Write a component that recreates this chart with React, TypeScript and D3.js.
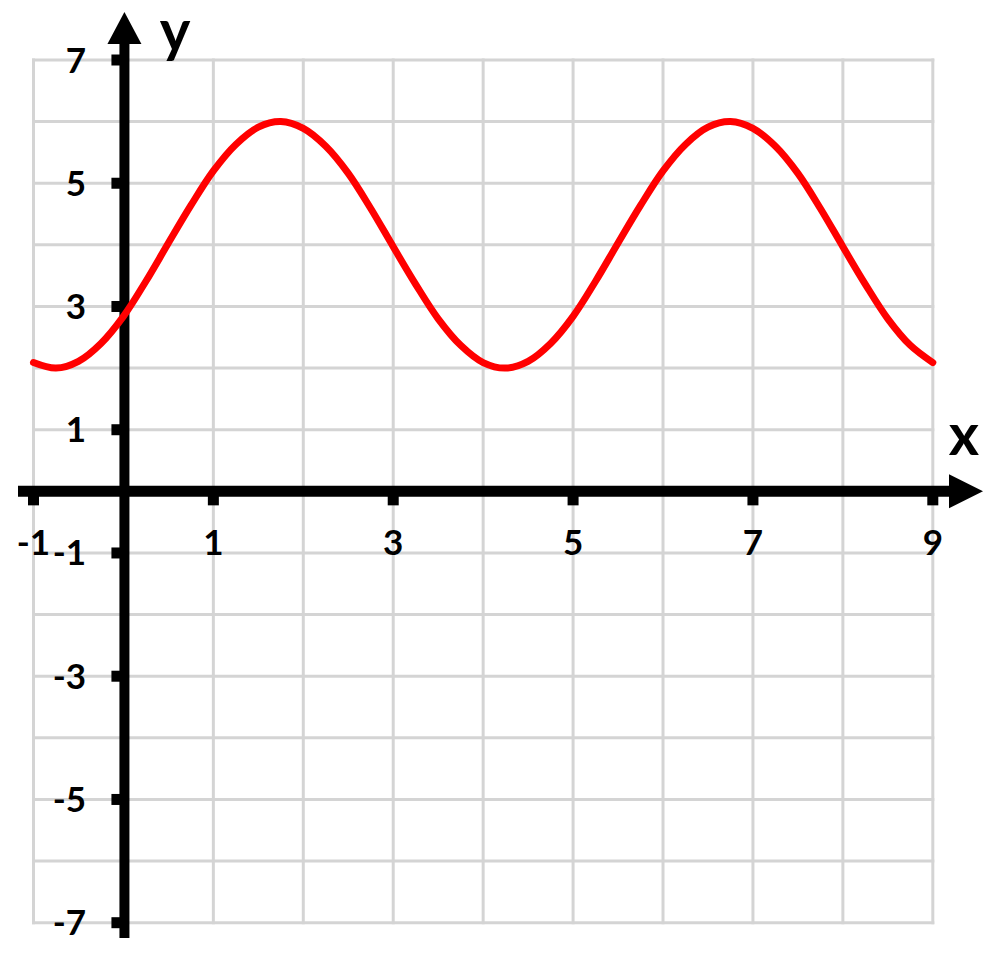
import * as d3 from "d3";
import React from "react";

// curve readings, every 0.25 from x = -1 to x = 9
const xValues: number[] = d3.range(0, 41).map((i) => -1 + i * 0.25);
const yValues: number[] = [
	2.09, 2.0, 2.11, 2.4, 2.84, 3.41, 4.03, 4.64, 5.2, 5.63, 5.91, 6.0, 5.89,
	5.6, 5.16, 4.59, 3.97, 3.36, 2.8, 2.37,
	2.09, 2.0, 2.11, 2.4, 2.84, 3.41, 4.03, 4.64, 5.2, 5.63, 5.91, 6.0, 5.89,
	5.6, 5.16, 4.59, 3.97, 3.36, 2.8, 2.37,
	2.09,
];

const gridX: number[] = [-1, 0, 1, 2, 3, 4, 5, 6, 7, 8, 9];
const gridY: number[] = [-7, -6, -5, -4, -3, -2, -1, 0, 1, 2, 3, 4, 5, 6, 7];
const xTicks: number[] = [-1, 1, 3, 5, 7, 9];
const yTicks: number[] = [7, 5, 3, 1, -1, -3, -5, -7];

const App = () => {
	const width: number = 1000;
	const height: number = 966;
	const font: string = "Lato, 'Open Sans', sans-serif";

	const xScale = d3.scaleLinear().domain([-1, 9]).range([33.5, 932.8]);
	const yScale = d3.scaleLinear().domain([-7, 7]).range([922.7, 60]);

	const x0: number = xScale(0) + 1;
	const y0: number = yScale(0);

	const points: [number, number][] = xValues.map((x, i) => [x, yValues[i]]);
	const line = d3
		.line<[number, number]>()
		.x((d) => xScale(d[0]))
		.y((d) => yScale(d[1]))
		.curve(d3.curveCatmullRom);

	return (
		<div style={{ position: "absolute", left: 0, top: 0 }}>
			<svg width={width} height={height} style={{ display: "block" }}>
				<rect width={width} height={height} fill="#fff" />

				{/* grid */}
				<g stroke="#d4d4d4" strokeWidth={3} strokeLinecap="square">
					{gridX.map((v) => (
						<line
							key={"gx" + v}
							x1={xScale(v)}
							x2={xScale(v)}
							y1={yScale(-7)}
							y2={yScale(7)}
						/>
					))}
					{gridY.map((v) => (
						<line
							key={"gy" + v}
							x1={xScale(-1)}
							x2={xScale(9)}
							y1={yScale(v)}
							y2={yScale(v)}
						/>
					))}
				</g>

				{/* axes */}
				<line x1={18} x2={955} y1={y0} y2={y0} stroke="#000" strokeWidth={11} />
				<path
					d={`M${983},${y0} L${949},${y0 - 17} L${949},${y0 + 17} Z`}
					fill="#000"
				/>
				<line x1={x0} x2={x0} y1={938} y2={40} stroke="#000" strokeWidth={10} />
				<path
					d={`M${x0},${12} L${x0 - 17},${44} L${x0 + 17},${44} Z`}
					fill="#000"
				/>

				{/* ticks */}
				{xTicks.map((v) => (
					<rect
						key={"xt" + v}
						x={xScale(v) - 5.5}
						y={y0 + 4}
						width={11}
						height={10}
						fill="#000"
					/>
				))}
				{yTicks.map((v) => (
					<rect
						key={"yt" + v}
						x={x0 - 13}
						y={yScale(v) - 5.5}
						width={10}
						height={11}
						fill="#000"
					/>
				))}

				{/* curve */}
				<path
					d={line(points) || ""}
					fill="none"
					stroke="#ff0000"
					strokeWidth={7}
					strokeLinejoin="round"
					strokeLinecap="round"
				/>

				{/* labels */}
				<g fontFamily={font} fontWeight="bold" fontSize={35} fill="#000">
					{xTicks.map((v) => (
						<text key={"xl" + v} x={xScale(v)} y={555} textAnchor="middle">
							{v}
						</text>
					))}
					{yTicks.map((v) => (
						<text
							key={"yl" + v}
							x={86}
							y={yScale(v) + 12.5}
							textAnchor="end"
						>
							{v}
						</text>
					))}
				</g>
				<text
					x={175}
					y={51}
					textAnchor="middle"
					fontFamily={font}
					fontWeight="bold"
					fontSize={58}
				>
					y
				</text>
				<text
					x={964}
					y={455}
					textAnchor="middle"
					fontFamily={font}
					fontWeight="bold"
					fontSize={58}
				>
					x
				</text>
			</svg>
		</div>
	);
};

export default App;
